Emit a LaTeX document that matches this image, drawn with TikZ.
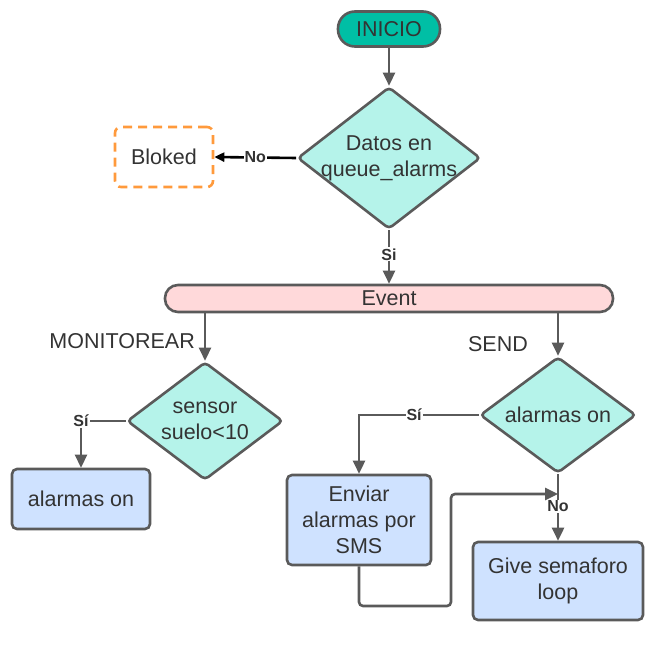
\documentclass[tikz,border=0pt]{standalone}
\usepackage{fontspec}
\setmainfont{Liberation Sans}
\usetikzlibrary{shapes.geometric,arrows.meta}
\definecolor{lineg}{HTML}{5A5A5A}
\definecolor{txt}{HTML}{333333}
\definecolor{startc}{HTML}{00BFA5}
\definecolor{diac}{HTML}{B5F3EA}
\definecolor{boxc}{HTML}{CFE2FF}
\definecolor{evc}{HTML}{FFD9DA}
\definecolor{orng}{HTML}{FF9A3C}
\tikzset{
  base/.style={draw=lineg, line width=2.6pt, text=txt, font=\fontsize{21.5}{26}\selectfont, align=center, inner sep=0pt},
  dia/.style={base, diamond, fill=diac, rounded corners=4pt, aspect=1.3, inner xsep=-30pt, inner ysep=-20pt},
  procbox/.style={base, rectangle, fill=boxc, rounded corners=5pt},
  conn/.style={draw=lineg, line width=2.6pt, -{Triangle[length=13pt,width=12pt]}},
  lbl/.style={font=\bfseries\fontsize{16}{18}\selectfont, text=txt, fill=white, inner sep=1pt},
  plain/.style={font=\fontsize{21.5}{26}\selectfont, text=txt, inner sep=0pt}
}
\begin{document}
\begin{tikzpicture}[x=1pt,y=-1pt]
\useasboundingbox (0,0) rectangle (662,659);
\node[base, fill=startc, rounded corners=17pt, minimum width=102pt, minimum height=35pt] (ini) at (389,29) {INICIO};
\node[dia, minimum width=183pt, minimum height=142pt] (d1) at (389,158) {Datos en\\queue\_alarms};
\node[base, draw=orng, dashed, dash pattern=on 9pt off 6pt, fill=white, rounded corners=6pt, minimum width=98pt, minimum height=60pt] (blk) at (164,157) {Bloked};
\node[base, fill=evc, rounded corners=13pt, minimum width=448pt, minimum height=27pt] (ev) at (389,298.5) {Event};
\node[dia, minimum width=156pt, minimum height=118pt] (d2) at (205,421) {sensor\\suelo<10};
\node[procbox, minimum width=138pt, minimum height=60pt] (a1) at (81,499) {alarmas on};
\node[dia, minimum width=156pt, minimum height=116pt] (d3) at (558,415) {alarmas on};
\node[procbox, minimum width=144pt, minimum height=90pt] (env) at (359,520) {Enviar\\alarmas por\\SMS};
\node[procbox, minimum width=170pt, minimum height=78pt] (give) at (558,581) {Give semaforo\\loop};
\node[plain, anchor=east] (mon) at (195,341) {MONITOREAR};
\node[plain] (send) at (498,344) {SEND};
\coordinate (lb) at (451,606);
\coordinate (lt) at (451,494);
\coordinate (jn) at (558,494);
% connectors
\draw[conn] (ini.south) -- (d1.north);
\draw[line width=2.6pt, draw=black, -{Triangle[length=10pt,width=9pt]}] (d1.west) -- node[lbl, pos=0.5] {No} (blk.east);
\draw[conn] (d1.south) -- node[lbl, pos=0.45] {Si} (ev.north);
\draw[conn] (d2.north |- ev.south) -- (d2.north);
\draw[conn] (d3.north |- ev.south) -- (d3.north);
\draw[conn] (d2.west) -| node[lbl, pos=0.5] {Sí} (a1.north);
\draw[conn] (d3.west) -| node[lbl, pos=0.27] {Sí} (env.north);
\draw[conn] (d3.south) -- node[lbl, pos=0.48] {No} (give.north);
\draw[conn, rounded corners=4pt] (env.south) |- (lb) -- (lt) -- (jn);
\end{tikzpicture}
\end{document}
